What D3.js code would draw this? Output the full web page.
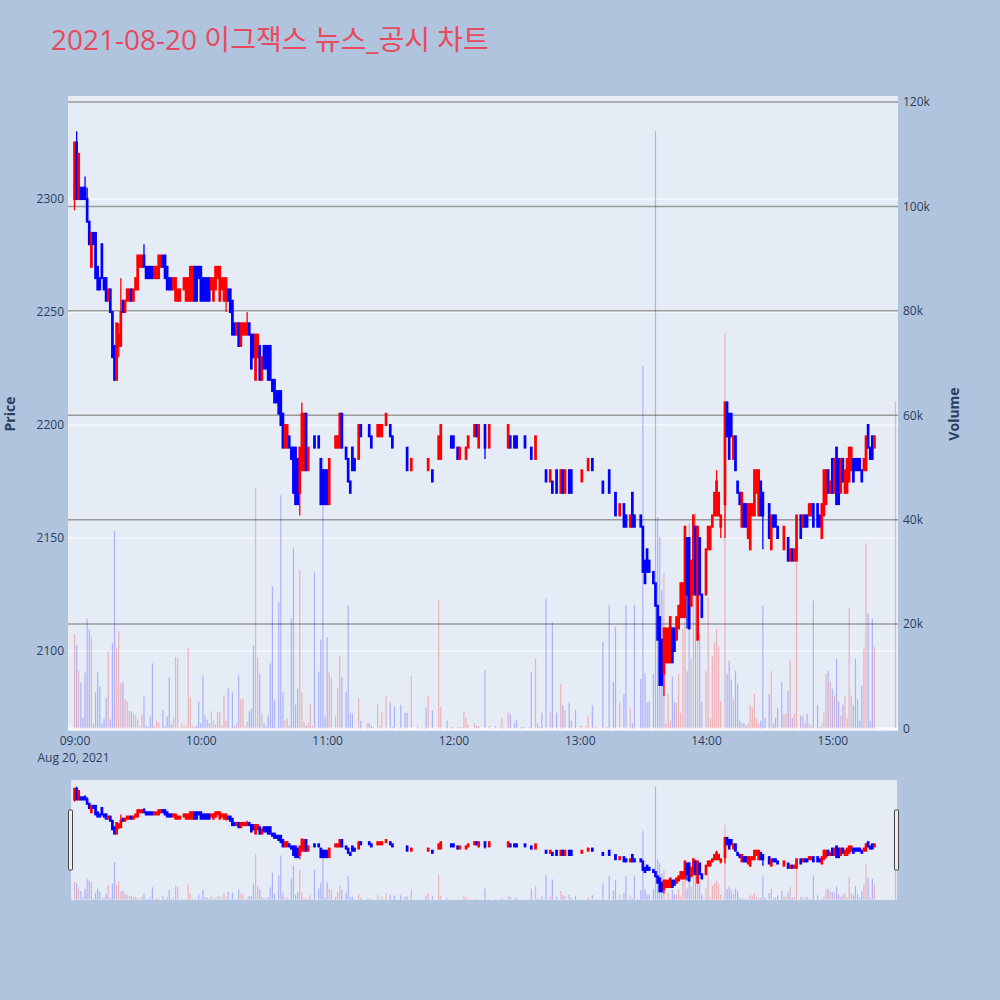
<!DOCTYPE html>
<html>
<head>
<meta charset="utf-8">
<script src="https://cdn.jsdelivr.net/npm/d3@7"></script>
<style>
  body { margin: 0; background: #b0c4de; }
  svg { display: block; font-family: "Open Sans", "Noto Sans CJK KR", sans-serif; }
</style>
</head>
<body>
<svg id="chart" width="1000" height="1000"></svg>
<script>
// Minute-bar session data: minutes after 09:00, OHLC prices (KRW) and traded volume (shares)
const tradeMinutes = [
  0,1,2,3,4,5,6,7,8,9,10,11,12,13,14,15,16,17,18,19,20,21,22,23,24,25,26,27,28,29,
  30,31,32,33,34,35,36,37,38,39,40,41,42,43,44,45,46,47,48,49,50,51,52,53,54,55,56,57,58,59,
  60,61,62,63,64,65,66,67,68,69,70,71,72,73,74,75,76,77,78,79,80,81,82,83,84,85,86,87,88,89,
  90,91,92,93,94,95,96,97,98,99,100,101,102,103,104,105,106,107,108,109,110,111,112,113,114,116,117,118,119,
  120,121,122,124,125,126,127,129,130,131,132,133,135,136,139,140,141,142,144,145,146,148,
  150,151,152,154,155,157,158,160,163,165,166,167,168,170,173,174,177,179,
  180,182,183,184,185,186,187,190,191,192,195,197,200,202,203,204,206,207,209,
  210,212,213,214,216,217,219,220,221,222,224,226,227,229,231,232,233,235,236,238,
  240,241,243,244,246,248,251,253,254,256,257,259,261,262,264,265,266,269,
  270,271,272,273,275,276,277,278,279,280,281,282,283,284,285,286,287,288,289,
  290,291,292,293,294,295,296,297,298,300,301,302,303,304,305,306,307,309,
  310,311,312,313,314,315,316,317,318,319,320,321,322,323,324,325,326,327,328,
  330,331,332,333,334,336,337,338,339,340,341,342,343,345,346,347,348,349,
  350,351,353,354,355,356,357,358,359,360,361,362,363,364,365,366,367,368,369,
  370,371,372,373,374,375,376,377,378,379,380,390
];
const openPrices = [
  2300,2325,2300,2305,2305,2305,2300,2290,2270,2285,2285,2270,2265,2280,2265,2265,2255,2260,2250,2235,2220,2235,2235,2255,2250,2255,2255,2260,2255,2260,
  2260,2270,2270,2275,2270,2270,2270,2270,2265,2265,2265,2270,2275,2275,2270,2265,2265,2260,2255,2255,2255,2260,2260,2255,2255,2255,2255,2270,2270,2270,
  2270,2265,2265,2265,2265,2260,2255,2260,2265,2255,2260,2255,2255,2260,2260,2255,2245,2240,2245,2235,2240,2240,2240,2245,2240,2240,2220,2230,2235,2220,
  2235,2235,2235,2235,2220,2220,2215,2215,2215,2205,2190,2190,2195,2190,2190,2190,2185,2170,2180,2180,2205,2180,2190,2200,2195,2195,2185,2180,2180,
  2180,2165,2190,2190,2190,2190,2205,2190,2185,2175,2190,2185,2185,2200,2200,2200,2195,2185,2195,2195,2195,2200,
  2200,2195,2190,2195,2190,2185,2190,2180,2185,2185,2185,2180,2180,2180,2185,2185,2190,2195,
  2195,2190,2185,2190,2190,2185,2190,2195,2200,2190,2200,2190,2190,2200,2200,2200,2190,2195,2195,
  2195,2190,2190,2195,2190,2190,2185,2185,2185,2185,2180,2175,2175,2180,2170,2180,2170,2180,2180,2170,
  2175,2175,2180,2180,2185,2185,2175,2180,2180,2170,2170,2160,2165,2160,2155,2170,2160,2160,
  2155,2140,2145,2140,2135,2130,2120,2115,2105,2090,2095,2095,2095,2110,2110,2105,2110,2115,2115,
  2115,2150,2150,2120,2125,2155,2105,2150,2125,2125,2145,2145,2155,2160,2160,2160,2155,2165,
  2210,2205,2205,2185,2195,2175,2170,2155,2165,2165,2150,2145,2160,2160,2170,2160,2175,2170,2160,
  2165,2145,2160,2160,2155,2150,2145,2155,2150,2140,2145,2140,2140,2160,2155,2160,2160,2160,
  2160,2165,2165,2160,2150,2160,2165,2180,2170,2185,2170,2190,2185,2170,2185,2170,2170,2175,2180,
  2185,2185,2185,2185,2180,2180,2180,2200,2190,2195,2190,2210
];
const highPrices = [
  2325,2330,2320,2305,2305,2310,2305,2290,2285,2285,2285,2270,2265,2280,2265,2265,2260,2260,2250,2235,2245,2245,2265,2255,2255,2260,2260,2260,2260,2265,
  2275,2275,2275,2280,2270,2270,2270,2270,2270,2270,2275,2275,2275,2275,2270,2265,2265,2265,2265,2260,2260,2260,2265,2265,2265,2270,2270,2270,2270,2270,
  2270,2265,2265,2265,2265,2265,2265,2270,2270,2270,2265,2265,2265,2260,2260,2255,2245,2245,2245,2245,2245,2245,2250,2245,2240,2240,2240,2240,2235,2230,
  2235,2235,2235,2235,2220,2220,2215,2215,2215,2205,2200,2200,2195,2190,2190,2190,2185,2190,2210,2205,2205,2190,2190,2200,2195,2195,2185,2180,2180,
  2180,2185,2190,2195,2195,2205,2205,2190,2185,2175,2190,2185,2200,2200,2200,2200,2195,2185,2200,2200,2200,2205,
  2200,2195,2190,2195,2190,2185,2190,2185,2185,2185,2185,2180,2185,2180,2195,2200,2190,2195,
  2195,2190,2190,2190,2190,2190,2195,2200,2200,2200,2200,2200,2190,2200,2200,2200,2200,2195,2195,
  2195,2190,2190,2195,2190,2190,2195,2185,2185,2185,2180,2180,2175,2180,2180,2180,2180,2180,2180,2170,
  2175,2180,2180,2185,2185,2185,2175,2180,2180,2170,2170,2165,2165,2160,2160,2170,2160,2160,
  2155,2140,2145,2140,2135,2130,2120,2115,2105,2110,2110,2110,2115,2110,2110,2115,2120,2130,2130,
  2155,2150,2150,2140,2160,2155,2155,2150,2125,2145,2155,2155,2160,2170,2180,2170,2160,2210,
  2210,2205,2205,2195,2195,2175,2170,2170,2165,2165,2165,2165,2165,2180,2180,2180,2175,2170,2160,
  2165,2160,2160,2160,2155,2150,2155,2155,2150,2145,2145,2145,2160,2160,2160,2160,2160,2165,
  2165,2165,2165,2160,2165,2180,2180,2180,2175,2185,2185,2190,2185,2185,2185,2180,2185,2190,2190,
  2185,2185,2185,2185,2180,2185,2195,2200,2190,2195,2195,2210
];
const lowPrices = [
  2295,2300,2300,2300,2300,2300,2290,2280,2270,2280,2265,2260,2260,2265,2260,2255,2255,2250,2230,2220,2220,2230,2235,2250,2250,2255,2255,2255,2255,2260,
  2260,2270,2270,2270,2265,2265,2265,2265,2265,2265,2265,2270,2270,2265,2260,2260,2260,2260,2255,2255,2255,2260,2260,2255,2255,2255,2255,2255,2255,2265,
  2255,2255,2255,2255,2255,2260,2255,2260,2265,2255,2260,2255,2250,2255,2250,2240,2240,2240,2235,2235,2240,2240,2240,2240,2225,2230,2220,2230,2220,2220,
  2225,2225,2220,2220,2215,2210,2210,2205,2200,2190,2190,2190,2190,2185,2170,2165,2165,2160,2180,2180,2180,2180,2190,2200,2190,2190,2165,2165,2165,
  2165,2165,2190,2190,2190,2190,2190,2185,2175,2170,2180,2180,2185,2195,2200,2195,2190,2185,2195,2195,2195,2200,
  2195,2190,2190,2195,2190,2185,2180,2180,2185,2185,2185,2180,2180,2175,2185,2185,2190,2190,
  2190,2185,2185,2190,2190,2185,2190,2195,2195,2190,2185,2190,2190,2200,2200,2200,2190,2190,2190,
  2190,2190,2190,2190,2190,2185,2185,2185,2185,2185,2175,2175,2170,2170,2170,2170,2170,2170,2170,2170,
  2175,2175,2180,2180,2180,2185,2170,2180,2170,2170,2160,2160,2155,2155,2155,2155,2155,2155,
  2135,2130,2135,2135,2130,2120,2105,2085,2085,2080,2095,2095,2095,2095,2100,2105,2110,2115,2115,
  2115,2110,2110,2120,2125,2125,2105,2125,2115,2125,2145,2145,2155,2160,2160,2160,2150,2150,
  2195,2185,2195,2185,2180,2170,2165,2155,2155,2155,2150,2145,2160,2160,2170,2160,2160,2145,2160,
  2150,2145,2155,2155,2150,2150,2145,2155,2140,2140,2140,2140,2140,2150,2155,2155,2155,2160,
  2160,2155,2155,2155,2150,2160,2165,2170,2170,2170,2170,2165,2165,2170,2175,2170,2170,2175,2180,
  2175,2180,2180,2180,2175,2180,2180,2190,2185,2185,2190,2210
];
const closePrices = [
  2325,2300,2320,2300,2300,2300,2290,2280,2285,2280,2265,2260,2260,2265,2260,2255,2260,2250,2230,2220,2245,2240,2250,2250,2255,2260,2260,2255,2260,2265,
  2275,2275,2275,2270,2265,2265,2265,2265,2270,2270,2275,2275,2270,2265,2260,2260,2260,2265,2265,2260,2260,2260,2265,2265,2265,2270,2270,2255,2255,2265,
  2255,2255,2255,2255,2255,2265,2265,2270,2270,2270,2265,2265,2265,2255,2250,2240,2240,2245,2235,2245,2245,2245,2245,2240,2225,2230,2240,2240,2220,2230,
  2225,2225,2220,2220,2215,2210,2210,2205,2200,2190,2200,2200,2190,2185,2170,2165,2165,2190,2205,2205,2180,2190,2190,2200,2190,2190,2165,2165,2165,
  2165,2185,2190,2195,2195,2205,2190,2185,2175,2170,2180,2180,2200,2195,2200,2195,2190,2185,2200,2200,2200,2205,
  2195,2190,2190,2195,2190,2185,2180,2185,2185,2185,2185,2180,2185,2175,2195,2200,2190,2190,
  2190,2185,2190,2190,2190,2190,2195,2200,2195,2200,2190,2200,2190,2200,2200,2200,2200,2190,2190,
  2190,2190,2190,2190,2190,2185,2195,2185,2185,2185,2175,2180,2170,2170,2180,2170,2180,2170,2170,2170,
  2175,2180,2180,2185,2180,2185,2170,2180,2170,2170,2160,2165,2155,2155,2160,2155,2155,2155,
  2135,2130,2135,2135,2130,2120,2105,2085,2085,2110,2110,2110,2115,2095,2100,2115,2120,2130,2130,
  2155,2125,2110,2140,2160,2125,2155,2125,2115,2145,2155,2155,2160,2170,2175,2170,2160,2210,
  2195,2185,2195,2195,2180,2170,2165,2170,2155,2155,2165,2165,2165,2180,2180,2180,2160,2160,2160,
  2150,2160,2155,2155,2150,2150,2155,2155,2140,2145,2140,2145,2160,2150,2160,2155,2155,2165,
  2165,2155,2155,2155,2165,2180,2180,2170,2175,2170,2185,2165,2165,2185,2175,2180,2185,2190,2190,
  2175,2180,2180,2180,2175,2185,2195,2190,2185,2185,2195,2210
];
const volumes = [
  18100,16000,11000,8800,2100,10700,21000,19000,17600,1000,6900,10900,8000,1000,1900,5800,14800,1700,16300,37800,15300,18600,8600,8800,5600,5200,3300,3300,2900,2500,
  1700,500,2700,6100,500,400,2300,12500,500,1500,1200,200,3500,500,2300,9800,800,1900,13700,13400,200,1000,400,500,15500,5900,500,300,500,5200,
  1000,10100,2500,1700,1000,3300,1500,800,3100,3100,500,6300,1500,7700,200,6900,500,1000,10200,5600,5800,500,1300,3300,3800,15900,46000,13600,10500,2900,
  1000,500,2500,12500,27200,5400,200,24200,44700,6900,1500,1900,500,21000,34500,4600,7700,30300,6900,1300,500,1000,4800,500,29900,10900,17000,51800,2300,
  17500,10900,9800,2500,7700,14000,9800,7000,23600,2900,2900,200,5800,1500,1000,1000,500,300,4800,500,3200,6300,
  5000,300,4200,200,4500,3000,3000,10000,500,200,200,4000,6300,3500,24700,4100,1500,300,
  300,300,300,300,3200,2000,800,1000,500,500,11100,500,500,300,2000,300,3000,2700,1000,
  1700,300,300,300,300,10800,13400,1000,300,3000,24900,3200,20300,3000,8600,4400,3500,5000,1500,3500,
  500,500,500,2300,4400,300,16600,300,23700,8900,19500,5000,6600,23700,4000,1000,23700,9500,
  69400,10500,5000,5200,10500,114400,40500,36700,26500,29700,1000,6600,1500,9900,5000,5000,10500,3000,19100,
  23600,11000,39300,13400,39000,41200,36000,18200,5000,11000,25200,2000,13800,16500,19100,15700,5200,75700,
  10500,13000,9400,5600,11000,8500,1500,1000,1000,500,1000,4500,4000,6600,2000,1000,1500,23600,2000,
  6600,11000,1000,2000,4000,8900,2800,2800,7200,13000,2000,2800,31900,2500,2500,1000,2800,1000,
  500,24500,4500,300,1000,3000,10500,11000,8900,7600,6300,13400,5200,2500,4500,6300,2000,23000,6300,
  4500,13400,5600,1500,8200,15200,35400,22000,1500,21000,15600,62600
];

const priceTicks = [2100, 2150, 2200, 2250, 2300];
const volumeTicks = [0, 20000, 40000, 60000, 80000, 100000, 120000];
const hourTicks = [0, 60, 120, 180, 240, 300, 360];
const priceRange = [2064.6, 2345.6];
const volumeRange = [-480, 121150];
const minuteRange = [-3.1, 391.2];
const sessionDate = new Date(2021, 7, 20, 9, 0, 0);
const titleText = "2021-08-20 이그잭스 뉴스_공시 차트";

const UP = "#ff0000", DOWN = "#0000ff";
const INK = "#2a3f5f";

const toTime = m => new Date(sessionDate.getTime() + m * 60000);

// Direction of each bar; flat bars follow the previous close, then the previous bar
const rising = [];
tradeMinutes.forEach((m, i) => {
  const o = openPrices[i], c = closePrices[i];
  if (c > o) rising.push(true);
  else if (c < o) rising.push(false);
  else if (i === 0) rising.push(true);
  else if (c > closePrices[i - 1]) rising.push(true);
  else if (c < closePrices[i - 1]) rising.push(false);
  else rising.push(rising[i - 1]);
});
const bars = tradeMinutes.map((m, i) => ({
  t: toTime(m), o: openPrices[i], h: highPrices[i], l: lowPrices[i], c: closePrices[i],
  v: volumes[i], up: rising[i]
}));

const svg = d3.select("#chart");
const plot = { left: 68, right: 898, top: 96, bottom: 731 };
const slider = { top: 780, bottom: 900 };

const x = d3.scaleTime().domain(minuteRange.map(toTime)).range([plot.left, plot.right]);
const yPrice = d3.scaleLinear().domain(priceRange).range([plot.bottom, plot.top]);
const yVol = d3.scaleLinear().domain(volumeRange).range([plot.bottom, plot.top]);

// Title
svg.append("text").attr("x", 51).attr("y", 50)
  .attr("font-size", 28).attr("fill", "#e84a5f").text(titleText);

// Plot background
svg.append("rect").attr("x", plot.left).attr("y", plot.top)
  .attr("width", plot.right - plot.left).attr("height", plot.bottom - plot.top)
  .attr("fill", "#e5ecf6");

// Price grid (white) and volume grid (grey)
svg.append("g").selectAll("line").data(priceTicks).join("line")
  .attr("x1", plot.left).attr("x2", plot.right)
  .attr("y1", d => yPrice(d)).attr("y2", d => yPrice(d))
  .attr("stroke", "#ffffff").attr("stroke-width", 1);
svg.append("g").selectAll("line").data(volumeTicks.filter(d => d > 0)).join("line")
  .attr("x1", plot.left).attr("x2", plot.right)
  .attr("y1", d => yVol(d)).attr("y2", d => yVol(d))
  .attr("stroke", "#9a9a9a").attr("stroke-width", 1.5);
svg.append("line")
  .attr("x1", plot.left).attr("x2", plot.right)
  .attr("y1", yVol(0)).attr("y2", yVol(0))
  .attr("stroke", "#ffffff").attr("stroke-width", 2);

function drawVolume(g, xs, ys, width) {
  g.selectAll("rect").data(bars).join("rect")
    .attr("x", d => xs(d.t) - width / 2)
    .attr("width", width)
    .attr("y", d => ys(d.v))
    .attr("height", d => Math.max(0, ys(0) - ys(d.v)))
    .attr("fill", d => d.up ? UP : DOWN)
    .attr("fill-opacity", 0.25);
}

function drawCandles(g, xs, ys) {
  const c = g.selectAll("g").data(bars).join("g")
    .attr("stroke", d => d.up ? UP : DOWN)
    .attr("fill", d => d.up ? UP : DOWN);
  c.append("line")
    .attr("x1", d => xs(d.t)).attr("x2", d => xs(d.t))
    .attr("y1", d => ys(d.h)).attr("y2", d => ys(d.l))
    .attr("stroke-width", 1.3);
  c.append("rect")
    .attr("x", d => xs(d.t) - 0.35).attr("width", 0.7)
    .attr("y", d => ys(Math.max(d.o, d.c)))
    .attr("height", d => Math.abs(ys(d.o) - ys(d.c)))
    .attr("stroke-width", 2);
}

svg.append("clipPath").attr("id", "clip-main").append("rect")
  .attr("x", plot.left).attr("y", plot.top)
  .attr("width", plot.right - plot.left).attr("height", plot.bottom - plot.top);

drawVolume(svg.append("g").attr("clip-path", "url(#clip-main)"), x, yVol, 1.2);
drawCandles(svg.append("g").attr("clip-path", "url(#clip-main)"), x, yPrice);

// Axes
const xAxis = svg.append("g").attr("transform", `translate(0,${plot.bottom})`)
  .call(d3.axisBottom(x).tickValues(hourTicks.map(toTime))
    .tickFormat(d3.timeFormat("%H:%M")).tickSize(0).tickPadding(5));
const yAxisL = svg.append("g").attr("transform", `translate(${plot.left},0)`)
  .call(d3.axisLeft(yPrice).tickValues(priceTicks).tickFormat(d3.format("d"))
    .tickSize(0).tickPadding(4));
const yAxisR = svg.append("g").attr("transform", `translate(${plot.right},0)`)
  .call(d3.axisRight(yVol).tickValues(volumeTicks)
    .tickFormat(d => d === 0 ? "0" : d3.format("~s")(d)).tickSize(0).tickPadding(5));
[xAxis, yAxisL, yAxisR].forEach(a => {
  a.select(".domain").remove();
  a.selectAll("text").attr("font-size", 12).attr("fill", INK)
    .attr("font-family", "'Open Sans', sans-serif");
});
svg.append("text").attr("x", x(toTime(0)) - 1).attr("y", 762).attr("text-anchor", "middle")
  .attr("font-size", 12).attr("fill", INK).text("Aug 20, 2021");

svg.append("text").attr("transform", "translate(15,414) rotate(-90)")
  .attr("text-anchor", "middle").attr("font-size", 14).attr("font-weight", "bold")
  .attr("fill", INK).text("Price");
svg.append("text").attr("transform", "translate(959,414) rotate(-90)")
  .attr("text-anchor", "middle").attr("font-size", 14).attr("font-weight", "bold")
  .attr("fill", INK).text("Volume");

// Range slider overview
const ySlidePrice = d3.scaleLinear().domain(priceRange).range([slider.bottom, slider.top]);
const ySlideVol = d3.scaleLinear().domain(volumeRange).range([slider.bottom, slider.top]);
svg.append("rect").attr("x", plot.left + 3).attr("y", slider.top)
  .attr("width", plot.right - plot.left - 4).attr("height", slider.bottom - slider.top)
  .attr("fill", "#e5ecf6");
svg.append("clipPath").attr("id", "clip-slider").append("rect")
  .attr("x", plot.left + 3).attr("y", slider.top)
  .attr("width", plot.right - plot.left - 4).attr("height", slider.bottom - slider.top);
drawVolume(svg.append("g").attr("clip-path", "url(#clip-slider)"), x, ySlideVol, 1.2);
drawCandles(svg.append("g").attr("clip-path", "url(#clip-slider)"), x, ySlidePrice);

const grabY = slider.top + (slider.bottom - slider.top) / 2 - 30;
[plot.left + 0.5, plot.right - 3.5].forEach(gx => {
  svg.append("rect").attr("x", gx).attr("y", grabY).attr("width", 4).attr("height", 60)
    .attr("rx", 1).attr("fill", "#eeeeee").attr("stroke", "#444444").attr("stroke-width", 1);
});
</script>
</body>
</html>
